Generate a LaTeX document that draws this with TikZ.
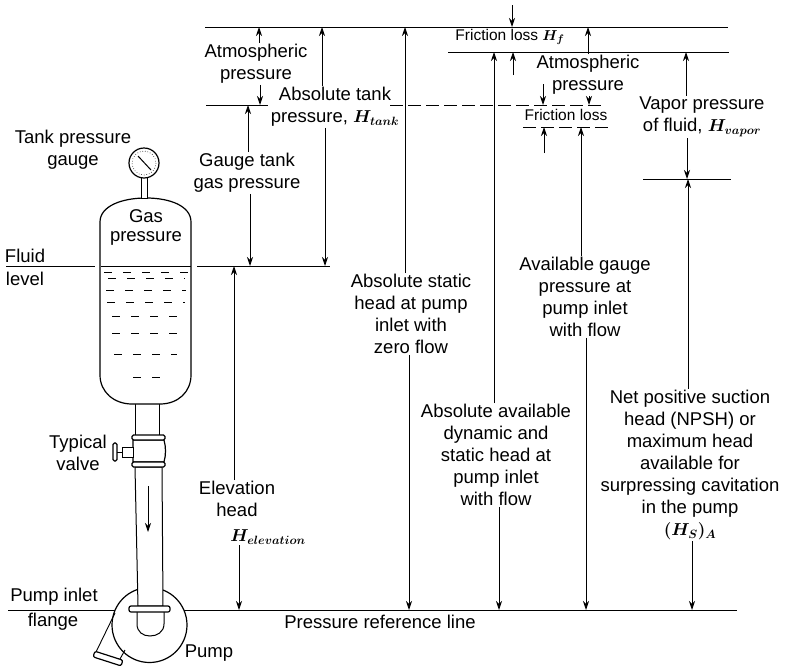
\documentclass[tikz,border=0pt]{standalone}
\usepackage{fontspec}
\setmainfont{Liberation Sans}
\usepackage{tikz}
\usetikzlibrary{arrows.meta}
\newcommand{\labelsize}{\fontsize{18.5}{22}\selectfont}
\newcommand{\smallsize}{\fontsize{15.5}{17}\selectfont}
\newcommand{\headsym}[1]{{\boldmath$H_{#1}$}}
\tikzset{
  % --- text ---
  lbl/.style={font=\labelsize, align=center, inner sep=1pt},
  smalllbl/.style={font=\smallsize, align=center, inner sep=1pt},
  % --- head lines and arrows ---
  levelline/.style={line width=0.9pt},
  levelgap/.style={levelline, dash pattern=on 13pt off 5pt},
  headarrow/.style={-{Stealth[length=9pt, width=6pt]}, line width=0.9pt},
  % --- tank and piping ---
  vessel/.style={line width=1.2pt, fill=white},
  fluidmark/.style={line width=0.35pt, dash pattern=on 8pt off 11pt},
}
\begin{document}
\begin{tikzpicture}[x=1pt, y=-1pt]
    \useasboundingbox (0,0) rectangle (785,667);
    % level lines
    \coordinate (topL) at (205,27);   \coordinate (topR) at (728,27);
    \coordinate (lossL) at (448,52);  \coordinate (lossR) at (729,52);
    \coordinate (tankL) at (206,105); \coordinate (tankR) at (268,105);
    \coordinate (gapL) at (390,105);  \coordinate (gapR) at (602,105);
    \coordinate (frL) at (523,127);   \coordinate (frR) at (609,127);
    \coordinate (vapL) at (643,179);  \coordinate (vapR) at (731,179);
    \coordinate (fluidL) at (6,266);  \coordinate (fluidM) at (95,266);
    \coordinate (fluidN) at (197,266); \coordinate (fluidR) at (330,266);
    \coordinate (refL) at (8,610);    \coordinate (refR) at (737,610);
    \foreach \a/\b in {topL/topR,lossL/lossR,tankL/tankR,vapL/vapR,fluidL/fluidM,fluidN/fluidR,refL/refR}{
      \draw[levelline] (\a) -- (\b); }
    \foreach \a/\b in {gapL/gapR,frL/frR}{ \draw[levelgap] (\a) -- (\b); }
    % pump casing
    \draw[vessel] (149.5,625) circle (37.5);
    \draw[line width=0.9pt] (115,613) -- (96,652);
    \draw[line width=0.9pt] (125,650) -- (120,659);
    \draw[vessel, rounded corners=2pt] (94.9,651.2) -- (122.9,660.2) -- (121.1,665.9) -- (93.1,656.9) -- cycle;
    % pipe
    \draw[line width=1pt, fill=white] (135,467) -- (138,606) -- (163,606) -- (162,467) -- cycle;
    \draw[line width=1pt] (137,612) -- (137,624) .. controls (137,632) and (143,636) .. (150,636)
      .. controls (157,636) and (164,632) .. (164,624) -- (164,612);
    \draw[vessel, rounded corners=2pt] (129,606) rectangle (170,612);
    \draw[headarrow] (148,486) -- (148,532);
    % valve
    \draw[line width=1pt] (135,404) -- (135,435);
    \draw[line width=1pt] (159,404) -- (159,435);
    \draw[vessel] (133,440) -- (133,462) -- (164,462) .. controls (166,455) and (166,447) .. (164,440) -- cycle;
    \draw[vessel, rounded corners=1.5pt] (132,435) rectangle (165,440);
    \draw[vessel, rounded corners=1.5pt] (132,462) rectangle (165,467);
    \draw[line width=0.9pt, fill=white] (122,447) rectangle (133,457);
    \draw[vessel, rounded corners=1.5pt] (113,443) rectangle (117,461);
    \draw[line width=0.9pt] (117,452) -- (122,452);
    % tank
    \draw[vessel] (100,222) .. controls (100,206) and (122,198) .. (146,198)
      .. controls (170,198) and (191,206) .. (191,222) -- (191,375)
      .. controls (191,392) and (178,404) .. (160,404) -- (132,404)
      .. controls (114,404) and (100,392) .. (100,375) -- cycle;
    \draw[levelline] (101,266) -- (191,266);
    % fluid marks
    \foreach \y/\xa/\xb in {272/104/188,278/108/185,290/106/186,302/107/185,316/112/183,333/112/183,354/114/177,377/133/168}{
      \draw[fluidmark] (\xa,\y) -- (\xb,\y); }
    % gauge
    \draw[line width=0.9pt, fill=white] (141,176) rectangle (147,198);
    \draw[line width=1.2pt, fill=white] (144,163) circle (15);
    \draw[line width=0.6pt, dotted] (144,163) circle (12);
    \draw[line width=1pt] (138,156) -- (151,170);
    % labels on the tank side
    \node[lbl] (tankGauge) at (73,150) {Tank pressure\\gauge};
    \node[lbl] (gasPress) at (146,227) {Gas\\[-3pt]pressure};
    \node[lbl] (fluidTxt) at (25,256) {Fluid};
    \node[lbl] (levelTxt) at (25,279) {level};
    \node[lbl] (typical) at (78,453) {Typical\\valve};
    \node[lbl] (pumpInlet) at (54,597) {Pump inlet};
    \node[lbl] (flangeTxt) at (53,622) {flange};
    \node[lbl] (pumpTxt) at (209,653) {Pump};
    \node[lbl] (refTxt) at (380,622) {Pressure reference line};
    % head labels
    \node[lbl] (atmL) at (256,64) {Atmospheric\\pressure};
    \node[lbl] (gaugeTank) at (247,173) {Gauge tank\\gas pressure};
    \node[lbl] (absTank) at (335,107) {Absolute tank\\pressure, \headsym{tank}};
    \node[lbl] (elev) at (237,499) {Elevation\\head};
    \node[lbl] (elevSym) at (268,537) {\headsym{elevation}};
    \node[lbl] (absStatic) at (411,314) {Absolute static\\head at pump\\inlet with\\zero flow};
    \node[lbl] (absAvail) at (496,455) {Absolute available\\dynamic and\\static head at\\pump inlet\\with flow};
    \node[lbl] (availGauge) at (585,297) {Available gauge\\pressure at\\pump inlet\\with flow};
    \node[lbl] (npsh) at (690,465) {Net positive suction\\head (NPSH) or\\maximum head\\available for\\surpressing cavitation\\in the pump\\{\boldmath$(H_S)_A$}};
    \node[lbl] (vapor) at (702,117) {Vapor pressure\\of fluid, \headsym{vapor}};
    \node[lbl] (atmR) at (588,75) {Atmospheric\\pressure};
    \node[smalllbl] (hfLoss) at (510,37) {Friction loss \headsym{f}};
    \node[smalllbl] (frLoss) at (566,115) {Friction loss};
    % free ends of the short arrows
    \coordinate (hfTop) at (512,5);
    \coordinate (hfLow) at (513,75);
    \coordinate (atmGap) at (543,84);
    \coordinate (frLow) at (544,153);
    % arrows from labels to levels
    \draw[headarrow] ([xshift=3pt]atmL.north) -- ([xshift=3pt]atmL.north |- topL);
    \draw[headarrow] ([xshift=4pt]atmL.south) -- ([xshift=4pt]atmL.south |- tankL);
    \draw[headarrow] ([xshift=1pt]gaugeTank.north) -- ([xshift=1pt]gaugeTank.north |- tankL);
    \draw[headarrow] ([xshift=3pt]gaugeTank.south) -- ([xshift=3pt]gaugeTank.south |- fluidR);
    \draw[headarrow] ([xshift=-13pt]absTank.north) -- ([xshift=-13pt]absTank.north |- topL);
    \draw[headarrow] ([xshift=-10pt]absTank.south) -- ([xshift=-10pt]absTank.south |- fluidR);
    \draw[headarrow] ([xshift=-3pt]elev.north) -- ([xshift=-3pt]elev.north |- fluidR);
    \draw[headarrow] ([xshift=-29pt]elevSym.south) -- ([xshift=-29pt]elevSym.south |- refL);
    \draw[headarrow] ([xshift=-6pt]absStatic.north) -- ([xshift=-6pt]absStatic.north |- topL);
    \draw[headarrow] ([xshift=-2pt]absStatic.south) -- ([xshift=-2pt]absStatic.south |- refL);
    \draw[headarrow] ([xshift=-2pt]absAvail.north) -- ([xshift=-2pt]absAvail.north |- lossL);
    \draw[headarrow] ([xshift=3pt]absAvail.south) -- ([xshift=3pt]absAvail.south |- refL);
    \draw[headarrow] ([xshift=-4pt]availGauge.north) -- ([xshift=-4pt]availGauge.north |- frL);
    \draw[headarrow] ([xshift=1pt]availGauge.south) -- ([xshift=1pt]availGauge.south |- refL);
    \draw[headarrow] ([xshift=-2pt]npsh.north) -- ([xshift=-2pt]npsh.north |- vapL);
    \draw[headarrow] ([xshift=2pt]npsh.south) -- ([xshift=2pt]npsh.south |- refL);
    \draw[headarrow] ([xshift=-16pt]vapor.north) -- ([xshift=-16pt]vapor.north |- lossL);
    \draw[headarrow] ([xshift=-15pt]vapor.south) -- ([xshift=-15pt]vapor.south |- vapL);
    \draw[headarrow] (atmR.north) -- (atmR.north |- topL);
    \draw[headarrow] ([xshift=1pt]atmR.south) -- ([xshift=1pt]atmR.south |- gapL);
    % short arrows
    \draw[headarrow] (hfTop) -- (hfTop |- topL);
    \draw[headarrow] (hfLow) -- (hfLow |- lossL);
    \draw[headarrow] (atmGap) -- (atmGap |- gapL);
    \draw[headarrow] (frLow) -- (frLow |- frL);
  \end{tikzpicture}
\end{document}
